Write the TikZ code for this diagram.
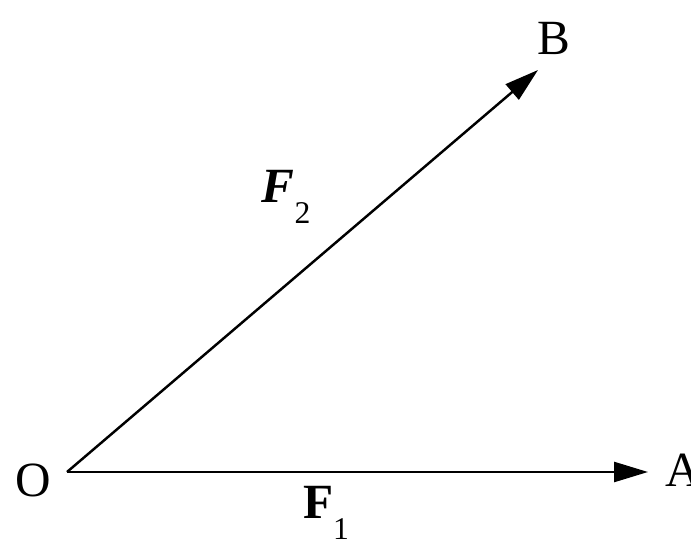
\documentclass[tikz,border=0pt]{standalone}
\usepackage{fontspec}
\setmainfont{Liberation Serif}
\usepackage{tikz}
\usetikzlibrary{arrows.meta, positioning}

\begin{document}
\begin{tikzpicture}[every node/.style={font=\fontsize{14}{17}\selectfont, inner sep=0pt},
  >={Triangle[length=3.4mm, width=2mm]}, line width=0.7pt]
  \useasboundingbox (0,0) rectangle (6.91,5.43);
  % points of the two forces
  \coordinate (o) at (0.67,0.71);
  \coordinate (a) at (6.48,0.71);
  \coordinate (b) at (5.38,4.73);
  \node (O) at (0.33,0.63) {O};
  \node (A) at (6.83,0.73) {A};
  \node (B) at (5.54,5.05) {B};
  \draw[->] (o) -- (a);
  \draw[->] (o) -- (b);
  % force labels
  \node (f2) at (2.86,3.46) {{\bfseries\itshape F}\raisebox{-0.9ex}{\fontsize{9}{11}\selectfont 2}};
  \node (f1) at (3.26,0.30) {{\bfseries F}\raisebox{-0.9ex}{\fontsize{9}{11}\selectfont 1}};
\end{tikzpicture}
\end{document}
